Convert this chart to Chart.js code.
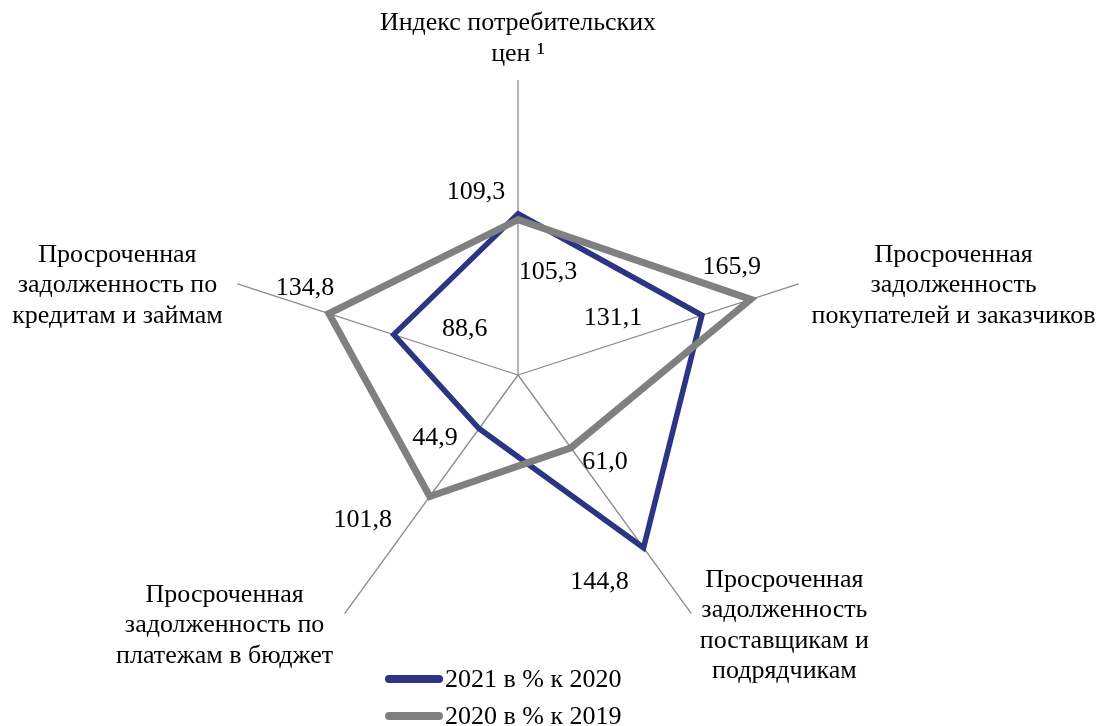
<!DOCTYPE html>
<html lang="ru">
<head>
<meta charset="utf-8">
<script src="https://cdn.jsdelivr.net/npm/chart.js@4.4.0/dist/chart.umd.min.js"></script>
<style>
  html, body { margin: 0; padding: 0; background: #fff; }
  #wrap { width: 1106px; height: 726px; position: relative; }
</style>
</head>
<body>
<div id="wrap"><canvas id="radar"></canvas></div>
<script>
// ---- data ----
const categories = [
  ['Индекс потребительских', 'цен ¹'],
  ['Просроченная', 'задолженность', 'покупателей и заказчиков'],
  ['Просроченная', 'задолженность', 'поставщикам и', 'подрядчикам'],
  ['Просроченная', 'задолженность по', 'платежам в бюджет'],
  ['Просроченная', 'задолженность по', 'кредитам и займам']
];
const seriesNames = ['2021 в % к 2020', '2020 в % к 2019'];
const values2021 = [109.3, 131.1, 144.8, 44.9, 88.6];
const values2020 = [105.3, 165.9, 61.0, 101.8, 134.8];

const COLORS = {
  blue: '#2B3584',
  gray: '#808080',
  axis: '#8A8A8A',
  text: '#000000'
};
const FONT = '26px "Liberation Serif", "Times New Roman", serif';
const LINE_H = 30.5;

// label placement relative to each point (dx, dy to text centre)
const valueOffsets = [
  [[-42, -22], [-89, 3], [-44, 34], [-44, 10], [71, -5]],
  [[30, 52], [-19, -32], [34, 14], [-67, 24], [-24, -25]]
];
// category label placement relative to axis end (dx, dy to first baseline)
const catOffsets = [[0, -50], [155, -22], [93, -27], [-120, -12], [-120, -22]];

const fmt = v => v.toFixed(1).replace('.', ',');

const labelsPlugin = {
  id: 'radarLabels',
  afterDatasetsDraw(chart) {
    const ctx = chart.ctx;
    ctx.save();
    ctx.font = FONT;
    ctx.fillStyle = COLORS.text;
    ctx.textAlign = 'center';
    ctx.textBaseline = 'middle';
    chart.data.datasets.forEach((ds, di) => {
      const meta = chart.getDatasetMeta(di);
      meta.data.forEach((pt, i) => {
        const off = valueOffsets[di][i];
        ctx.fillText(fmt(ds.data[i]), pt.x + off[0], pt.y + off[1]);
      });
    });
    ctx.restore();
  },
  afterDraw(chart) {
    const ctx = chart.ctx;
    const scale = chart.scales.r;
    ctx.save();
    ctx.font = FONT;
    ctx.fillStyle = COLORS.text;
    ctx.textAlign = 'center';
    ctx.textBaseline = 'alphabetic';
    chart.data.labels.forEach((lines, i) => {
      const p = scale.getPointPosition(i, scale.drawingArea);
      const off = catOffsets[i];
      lines.forEach((line, k) => {
        ctx.fillText(line, p.x + off[0], p.y + off[1] + k * LINE_H);
      });
    });

    // legend, stacked vertically
    ctx.textAlign = 'left';
    ctx.textBaseline = 'middle';
    ctx.lineCap = 'round';
    chart.data.datasets.forEach((ds, di) => {
      const y = 679 + di * 37;
      ctx.strokeStyle = ds.borderColor;
      ctx.lineWidth = 8;
      ctx.beginPath();
      ctx.moveTo(389, y);
      ctx.lineTo(439, y);
      ctx.stroke();
      ctx.fillText(ds.label, 445, y + 1);
    });
    ctx.restore();
  }
};

new Chart(document.getElementById('radar').getContext('2d'), {
  type: 'radar',
  data: {
    labels: categories,
    datasets: [
      {
        label: seriesNames[0],
        data: values2021,
        borderColor: COLORS.blue,
        backgroundColor: 'transparent',
        borderWidth: 5.5,
        pointRadius: 0,
        fill: false,
        order: 1
      },
      {
        label: seriesNames[1],
        data: values2020,
        borderColor: COLORS.gray,
        backgroundColor: 'transparent',
        borderWidth: 7,
        pointRadius: 0,
        fill: false,
        order: 0
      }
    ]
  },
  options: {
    responsive: true,
    maintainAspectRatio: false,
    animation: false,
    layout: { padding: { top: 80, bottom: 56, left: 0, right: 70 } },
    elements: { line: { tension: 0, borderJoinStyle: 'miter' } },
    plugins: {
      legend: { display: false },
      tooltip: { enabled: false }
    },
    scales: {
      r: {
        min: 0,
        max: 200,
        ticks: { display: false },
        grid: { display: false },
        angleLines: { display: true, color: COLORS.axis, lineWidth: 1.3 },
        pointLabels: { display: false }
      }
    }
  },
  plugins: [labelsPlugin]
});
</script>
</body>
</html>
